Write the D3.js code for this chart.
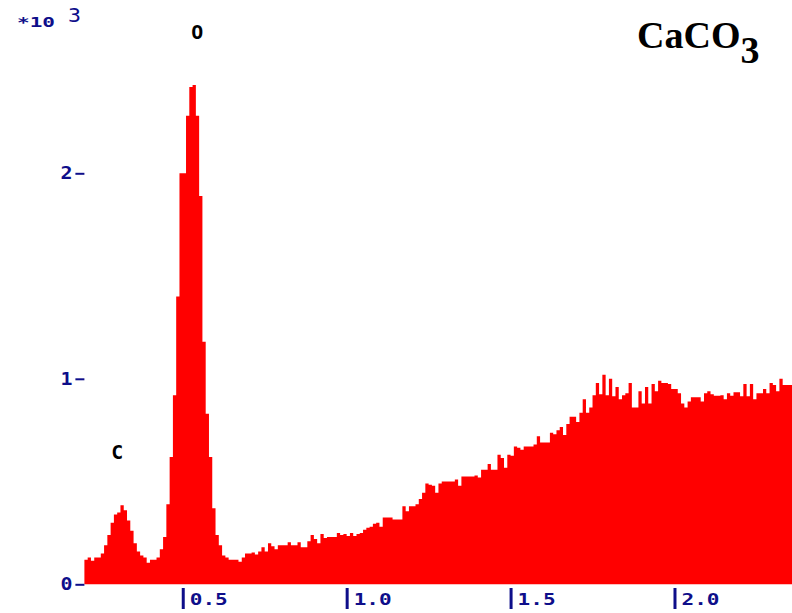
<!DOCTYPE html>
<html>
<head>
<meta charset="utf-8">
<script src="https://cdn.jsdelivr.net/npm/d3@7"></script>
<style>
  html, body { margin: 0; padding: 0; background: #fff; }
  svg { display: block; }
</style>
</head>
<body>
<svg id="chart" width="792" height="613"></svg>
<script>
// EDS spectrum of CaCO3: counts per 10 eV channel, in thousands (x10^3)
const counts = [
  0.12, 0.13, 0.115, 0.13, 0.13, 0.15, 0.19, 0.24, 0.30, 0.34,
  0.35, 0.385, 0.36, 0.31, 0.26, 0.20, 0.16, 0.14, 0.13, 0.105,
  0.12, 0.12, 0.13, 0.17, 0.23, 0.39, 0.62, 0.92, 1.40, 2.00,
  2.00, 2.28, 2.42, 2.43, 2.28, 1.89, 1.18, 0.83, 0.62, 0.37,
  0.24, 0.19, 0.14, 0.13, 0.12, 0.12, 0.12, 0.11, 0.13, 0.15,
  0.15, 0.155, 0.145, 0.16, 0.18, 0.16, 0.20, 0.185, 0.17, 0.19,
  0.19, 0.19, 0.205, 0.19, 0.19, 0.205, 0.18, 0.18, 0.21, 0.24,
  0.22, 0.20, 0.245, 0.225, 0.23, 0.23, 0.23, 0.25, 0.24, 0.245,
  0.235, 0.25, 0.235, 0.245, 0.25, 0.265, 0.275, 0.28, 0.295, 0.30,
  0.28, 0.325, 0.325, 0.325, 0.315, 0.315, 0.315, 0.38, 0.355, 0.38,
  0.38, 0.39, 0.415, 0.445, 0.49, 0.485, 0.48, 0.445, 0.49, 0.50,
  0.50, 0.50, 0.50, 0.51, 0.48, 0.525, 0.525, 0.525, 0.525, 0.53,
  0.52, 0.557, 0.557, 0.585, 0.557, 0.557, 0.63, 0.615, 0.567, 0.63,
  0.625, 0.67, 0.665, 0.655, 0.67, 0.67, 0.67, 0.68, 0.72, 0.69,
  0.69, 0.69, 0.737, 0.73, 0.75, 0.765, 0.727, 0.78, 0.815, 0.815,
  0.79, 0.835, 0.90, 0.835, 0.86, 0.92, 0.98, 0.925, 1.02, 0.92,
  1.00, 0.915, 0.96, 0.90, 0.92, 0.93, 0.98, 0.86, 0.86, 0.94,
  0.88, 0.96, 0.88, 0.975, 0.94, 0.99, 0.98, 0.98, 0.975, 0.95,
  0.95, 0.93, 0.88, 0.86, 0.89, 0.91, 0.91, 0.91, 0.89, 0.93,
  0.94, 0.925, 0.917, 0.917, 0.92, 0.90, 0.93, 0.917, 0.935, 0.935,
  0.915, 0.975, 0.915, 0.975, 0.90, 0.93, 0.93, 0.95, 0.93, 0.98,
  0.97, 0.94, 1.00, 0.97, 0.97, 0.97
];
const channelStart = 0.20;   // keV
const channelWidth = 0.01;   // keV

const xTickValues = [0.5, 1.0, 1.5, 2.0];
const xTickLabels = ["0.5", "1.0", "1.5", "2.0"];
const yTickValues = [0, 1, 2];
const yTickLabels = ["0", "1", "2"];

const peakNames = ["C", "O"];
const peakEnergies = [0.30, 0.544];

const formulaMain = "CaCO";
const formulaSub = "3";
const scaleNote = "*10";
const scaleExp = "3";

const navy = "#0e0e8a";
const mono = "'DejaVu Sans Mono', 'Liberation Mono', monospace";

const svg = d3.select("#chart");
svg.append("rect").attr("width", 792).attr("height", 613).attr("fill", "#fff");

const eEnd = channelStart + counts.length * channelWidth;
const x = d3.scaleLinear().domain([channelStart, eEnd]).range([84.4, 792.5]);
const y = d3.scaleLinear().domain([0, 2]).range([584.3, 173.3]);

// spectrum as a stepped filled area
const pts = counts.map((v, i) => ({ e: channelStart + i * channelWidth, v }));
pts.push({ e: eEnd, v: counts[counts.length - 1] });
const area = d3.area()
  .curve(d3.curveStepAfter)
  .x(d => x(d.e))
  .y0(y(0))
  .y1(d => y(d.v));
svg.append("path").datum(pts).attr("fill", "#ff0000").attr("d", area);

// left axis
const gy = svg.append("g")
  .attr("transform", `translate(${x(channelStart)},0)`)
  .call(d3.axisLeft(y)
    .tickValues(yTickValues)
    .tickFormat((d, i) => yTickLabels[i])
    .tickSize(9)
    .tickPadding(3));
gy.select(".domain").remove();
gy.selectAll(".tick line").attr("stroke", navy).attr("stroke-width", 2);
gy.selectAll(".tick text")
  .attr("fill", navy)
  .attr("font-family", mono)
  .attr("font-weight", "bold")
  .attr("font-size", 17)
  .attr("textLength", 12)
  .attr("lengthAdjust", "spacingAndGlyphs");

// bottom axis: "|0.5" style ticks
const gx = svg.append("g")
  .attr("transform", "translate(0,588)")
  .call(d3.axisBottom(x)
    .tickValues(xTickValues)
    .tickFormat((d, i) => xTickLabels[i])
    .tickSizeInner(21)
    .tickSizeOuter(0));
gx.select(".domain").remove();
gx.selectAll(".tick line").attr("stroke", navy).attr("stroke-width", 3);
gx.selectAll(".tick text")
  .attr("text-anchor", "start")
  .attr("x", 6.5)
  .attr("y", 17)
  .attr("dy", 0)
  .attr("fill", navy)
  .attr("font-family", mono)
  .attr("font-weight", "bold")
  .attr("font-size", 16.5)
  .attr("textLength", 38)
  .attr("lengthAdjust", "spacingAndGlyphs");

// scale multiplier in the top-left corner
svg.append("text")
  .attr("x", 17).attr("y", 27)
  .attr("fill", navy)
  .attr("font-family", mono)
  .attr("font-weight", "bold")
  .attr("font-size", 14)
  .attr("textLength", 38)
  .attr("lengthAdjust", "spacingAndGlyphs")
  .text(scaleNote);
svg.append("text")
  .attr("x", 68).attr("y", 22)
  .attr("fill", navy)
  .attr("font-family", mono)
  .attr("font-size", 19)
  .attr("textLength", 13)
  .attr("lengthAdjust", "spacingAndGlyphs")
  .text(scaleExp);

// element labels above their peaks
peakNames.forEach((name, k) => {
  const e0 = peakEnergies[k];
  const localMax = d3.max(pts.filter(p => Math.abs(p.e - e0) <= 0.05), p => p.v);
  svg.append("text")
    .attr("x", x(e0))
    .attr("y", y(localMax) - 46)
    .attr("text-anchor", "middle")
    .attr("fill", "#000")
    .attr("font-family", mono)
    .attr("font-weight", "bold")
    .attr("font-size", 19.5)
    .attr("textLength", 12)
    .attr("lengthAdjust", "spacingAndGlyphs")
    .text(name);
});

// compound name
const title = svg.append("text")
  .attr("x", 637).attr("y", 48)
  .attr("fill", "#000")
  .attr("font-family", "'Liberation Serif', 'Times New Roman', serif")
  .attr("font-weight", "bold")
  .attr("font-size", 38);
title.append("tspan").text(formulaMain);
title.append("tspan").attr("dy", 15).text(formulaSub);
</script>
</body>
</html>
